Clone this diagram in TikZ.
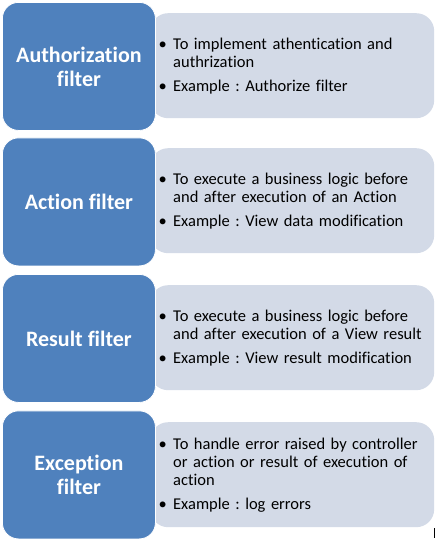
\documentclass[tikz,border=0pt]{standalone}
\usepackage{fontspec}
\setmainfont[Ligatures={NoCommon}]{Carlito}
\usetikzlibrary{positioning}
\definecolor{filterblue}{HTML}{4F81BD}
\definecolor{filtergray}{HTML}{D3DAE7}
\tikzset{
  filter name/.style={fill=filterblue,draw=white,line width=.8pt,rounded corners=16pt,
    minimum width=153pt,minimum height=128pt,text=white,align=center,
    font=\fontsize{22}{24}\selectfont\bfseries},
  filter info/.style={fill=filtergray,rounded corners=18pt,minimum height=105pt,
    text width=270pt,inner xsep=7pt,align=left,
    font=\fontsize{16.5}{18}\selectfont}
}
\newcommand{\FilterItem}[1]{\par\hangindent=16pt\hangafter=1\noindent
  \makebox[16pt][l]{\hspace{1.5pt}\textbullet}#1\par\vspace{6pt}}

\begin{document}
\frenchspacing
\begin{tikzpicture}[x=1pt,y=-1pt]
  \useasboundingbox (0,0) rectangle (443,541);

  % right boxes first, the blue ones lie over them
  \node[filter info,anchor=north west] (authinfo) at (150,13) {%
    \FilterItem{To implement athentication and\newline authrization}%
    \FilterItem{Example : Authorize filter}\vspace{-6pt}};
  \node[filter info,anchor=north west] (actioninfo) at (150,148) {%
    \FilterItem{To execute a business logic before\newline and after execution of an Action}%
    \FilterItem{Example : View data modification}\vspace{-6pt}};
  \node[filter info,anchor=north west] (resultinfo) at (150,285) {%
    \FilterItem{To execute a business logic before\newline and after execution of a View result}%
    \FilterItem{Example : View result modification}\vspace{-6pt}};
  \node[filter info,anchor=north west] (exceptioninfo) at (150,422) {%
    \FilterItem{To handle error raised by controller\newline or action or result of execution of\newline action}%
    \FilterItem{Example : log errors}\vspace{-6pt}};

  \node[filter name,anchor=north west] (auth) at (2,2) {Authorization\\filter};
  \node[filter name,anchor=north west] (action) at (2,137.5) {Action filter};
  \node[filter name,anchor=north west] (result) at (2,274) {Result filter};
  \node[filter name,anchor=north west] (exception) at (2,410.5) {Exception\\filter};

  \coordinate (cursor) at (434.5,528);
  \draw[line width=1pt] (cursor) -- ++(0,10);
\end{tikzpicture}
\end{document}
